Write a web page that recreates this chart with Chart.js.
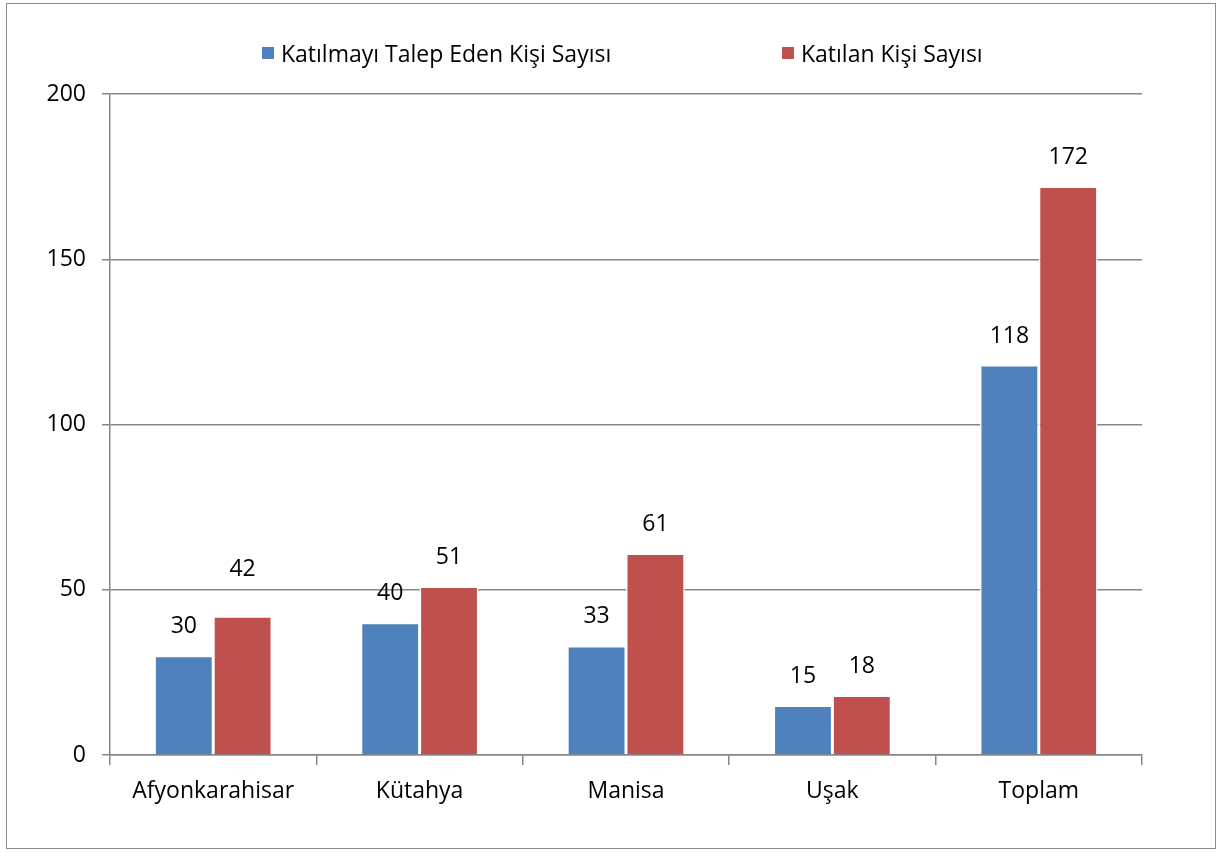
<!DOCTYPE html>
<html>
<head>
<meta charset="utf-8">
<script src="https://cdn.jsdelivr.net/npm/chart.js@4"></script>
<style>
  body { margin: 0; background: #fff; }
  #frame { position: absolute; left: 6px; top: 3px; width: 1208px; height: 844px; border: 1px solid #8c8c8c; }
  #wrap { position: absolute; left: 0; top: 0; width: 1217px; height: 853px; }
  #legend { position: absolute; top: 37px; left: 262px; font-family: 'Open Sans', sans-serif; font-size: 23px; color: #000; }
  #legend span.item { position: absolute; white-space: nowrap; display: flex; align-items: center; }
  #legend i { display: inline-block; width: 12px; height: 12px; margin-right: 7px; }
</style>
</head>
<body>
<div id="frame"></div>
<div id="wrap"><canvas id="chart" width="1217" height="853"></canvas></div>
<div id="legend"></div>
<script>
const categories = ['Afyonkarahisar', 'Kütahya', 'Manisa', 'Uşak', 'Toplam'];
const requested = [30, 40, 33, 15, 118];
const attended = [42, 51, 61, 18, 172];
const seriesNames = ['Katılmayı Talep Eden Kişi Sayısı', 'Katılan Kişi Sayısı'];
const colors = ['#4f81bd', '#c0504d'];
const yTicks = [0, 50, 100, 150, 200];

const legend = document.getElementById('legend');
const offsets = [0, 520];
seriesNames.forEach((name, i) => {
    const item = document.createElement('span');
    item.className = 'item';
    item.style.left = offsets[i] + 'px';
    item.innerHTML = '<i style="background:' + colors[i] + '"></i>' + name;
    legend.appendChild(item);
});

// value labels above the bars; the first red label sits higher, clear of the 50 gridline
const valueLabels = {
    id: 'valueLabels',
    afterDatasetsDraw(chart) {
        const ctx = chart.ctx;
        ctx.save();
        ctx.font = '23px "Open Sans", sans-serif';
        ctx.fillStyle = '#000';
        ctx.textAlign = 'center';
        ctx.textBaseline = 'middle';
        chart.data.datasets.forEach((ds, di) => {
            chart.getDatasetMeta(di).data.forEach((bar, i) => {
                const lift = (di === 1 && i === 0) ? 47 : 29;
                ctx.fillText(ds.data[i], bar.x, bar.y - lift);
            });
        });
        ctx.restore();
    }
};

new Chart(document.getElementById('chart'), {
    type: 'bar',
    data: {
        labels: categories,
        datasets: [
            { label: seriesNames[0], data: requested, backgroundColor: colors[0], borderColor: '#ffffff', borderWidth: 1.5 },
            { label: seriesNames[1], data: attended, backgroundColor: colors[1], borderColor: '#ffffff', borderWidth: 1.5 }
        ]
    },
    options: {
        responsive: false,
        animation: false,
        layout: { padding: { left: 32, right: 75, top: 94, bottom: 40 } },
        plugins: { legend: { display: false }, tooltip: { enabled: false } },
        datasets: { bar: { categoryPercentage: 0.57, barPercentage: 1 } },
        scales: {
            x: {
                grid: { offset: true, drawOnChartArea: false, color: '#868686', tickLength: 10, lineWidth: 1.5 },
                border: { color: '#868686', width: 1.5 },
                ticks: { color: '#000', font: { family: "'Open Sans', sans-serif", size: 23 }, padding: 13 },
                afterFit: s => { s.height = 58; }
            },
            y: {
                min: 0, max: 200,
                afterBuildTicks: s => { s.ticks = yTicks.map(v => ({ value: v })); },
                grid: { color: '#868686', tickLength: 8, lineWidth: 1.5 },
                border: { color: '#868686', width: 1.5 },
                ticks: { color: '#000', font: { family: "'Open Sans', sans-serif", size: 23 }, padding: 16 },
                afterFit: s => { s.width = 78; }
            }
        }
    },
    plugins: [valueLabels]
});
</script>
</body>
</html>
